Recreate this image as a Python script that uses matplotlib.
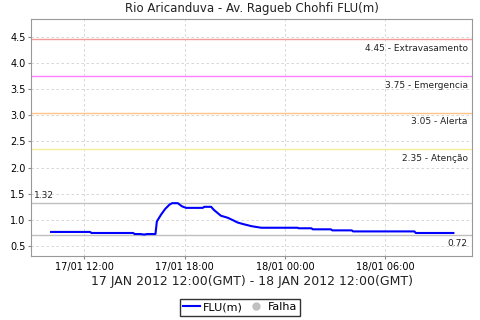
import pandas as pd
import matplotlib.pyplot as plt
import matplotlib.dates as mdates
from matplotlib.lines import Line2D

# 데이터: 수위 FLU(m)
times = ["17 10:00", "17 12:20", "17 12:25", "17 14:55", "17 15:00", "17 15:20",
         "17 15:35", "17 15:45", "17 16:15", "17 16:20", "17 16:35", "17 16:50",
         "17 17:05", "17 17:15", "17 17:35", "17 17:50", "17 18:05", "17 19:05",
         "17 19:10", "17 19:35", "17 19:45", "17 20:10", "17 20:35", "17 20:55",
         "17 21:10", "17 21:30", "17 22:00", "17 22:35", "18 00:45", "18 00:50",
         "18 01:35", "18 01:40", "18 02:45", "18 02:50", "18 04:00", "18 04:05",
         "18 07:45", "18 07:50", "18 10:05"]
flu = [0.77, 0.77, 0.75, 0.75, 0.73, 0.73,
       0.72, 0.73, 0.73, 0.97, 1.10, 1.21,
       1.29, 1.32, 1.32, 1.26, 1.23, 1.23,
       1.25, 1.25, 1.19, 1.08, 1.04, 0.99,
       0.95, 0.92, 0.88, 0.85, 0.85, 0.84,
       0.84, 0.82, 0.82, 0.80, 0.80, 0.78,
       0.78, 0.75, 0.75]

# 기준선
levels = [4.45, 3.75, 3.05, 2.35]
level_names = ["Extravasamento", "Emergencia", "Alerta", "Atenção"]
level_colors = ["#f29a9a", "#ff80ff", "#ffc488", "#f8ec98"]
v_max, v_min = 1.32, 0.72

t = pd.to_datetime(["2012-01-" + s for s in times])

fig = plt.figure(figsize=(4.8, 3.2), dpi=100)
ax = fig.add_axes([0.0646, 0.2, 0.9188, 0.7406])

for lv, name, c in zip(levels, level_names, level_colors):
    ax.axhline(lv, color=c, lw=1.0, zorder=2)
    ax.text(0.99, lv - 0.09, f"{lv:.2f} - {name}", transform=ax.get_yaxis_transform(),
            ha='right', va='top', fontsize=6.5, color='#222222')

ax.axhline(v_max, color='#c0c0c0', lw=1.0, zorder=2)
ax.axhline(v_min, color='#c0c0c0', lw=1.0, zorder=2)
ax.text(0.006, v_max + 0.06, f"{v_max:.2f}", transform=ax.get_yaxis_transform(),
        ha='left', va='bottom', fontsize=6.5, color='#222222')
ax.text(0.99, v_min - 0.08, f"{v_min:.2f}", transform=ax.get_yaxis_transform(),
        ha='right', va='top', fontsize=6.5, color='#222222')

ax.plot(t, flu, color='#0000ff', lw=1.5, zorder=3)

t0 = pd.Timestamp("2012-01-17 08:48")
t1 = pd.Timestamp("2012-01-18 11:12")
ax.set_xlim(t0, t1)
ax.set_ylim(0.31, 4.84)
ax.set_yticks([0.5, 1.0, 1.5, 2.0, 2.5, 3.0, 3.5, 4.0, 4.5])
ax.set_xticks(pd.to_datetime(["2012-01-17 12:00", "2012-01-17 18:00",
                              "2012-01-18 00:00", "2012-01-18 06:00"]))
ax.xaxis.set_major_formatter(mdates.DateFormatter("%d/%m %H:%M"))

ax.grid(True, color='#d0d0d0', ls=(0, (3, 3)), lw=0.6)
ax.tick_params(labelsize=7, length=2, color='#888888', pad=2)
for s in ax.spines.values():
    s.set_color('#999999')
    s.set_linewidth(0.8)

ax.set_title("Rio Aricanduva - Av. Ragueb Chohfi FLU(m)", fontsize=8.5, pad=5, color='#222222')
ax.set_xlabel("17 JAN 2012 12:00(GMT) - 18 JAN 2012 12:00(GMT)", fontsize=9, labelpad=2.5,
              color='#222222')

handles = [Line2D([], [], color='#0000ff', lw=1.5),
           Line2D([], [], color='#c0c0c0', marker='o', ls='none', markersize=5)]
fig.legend(handles, ["FLU(m)", "Falha"], loc='center', bbox_to_anchor=(0.5, 0.04),
           ncol=2, fontsize=8, frameon=True, fancybox=False, edgecolor='black',
           handlelength=1.5, handletextpad=0.3, columnspacing=0.4,
           borderpad=0.3, borderaxespad=0)

fig.savefig("out.png", dpi=100)
